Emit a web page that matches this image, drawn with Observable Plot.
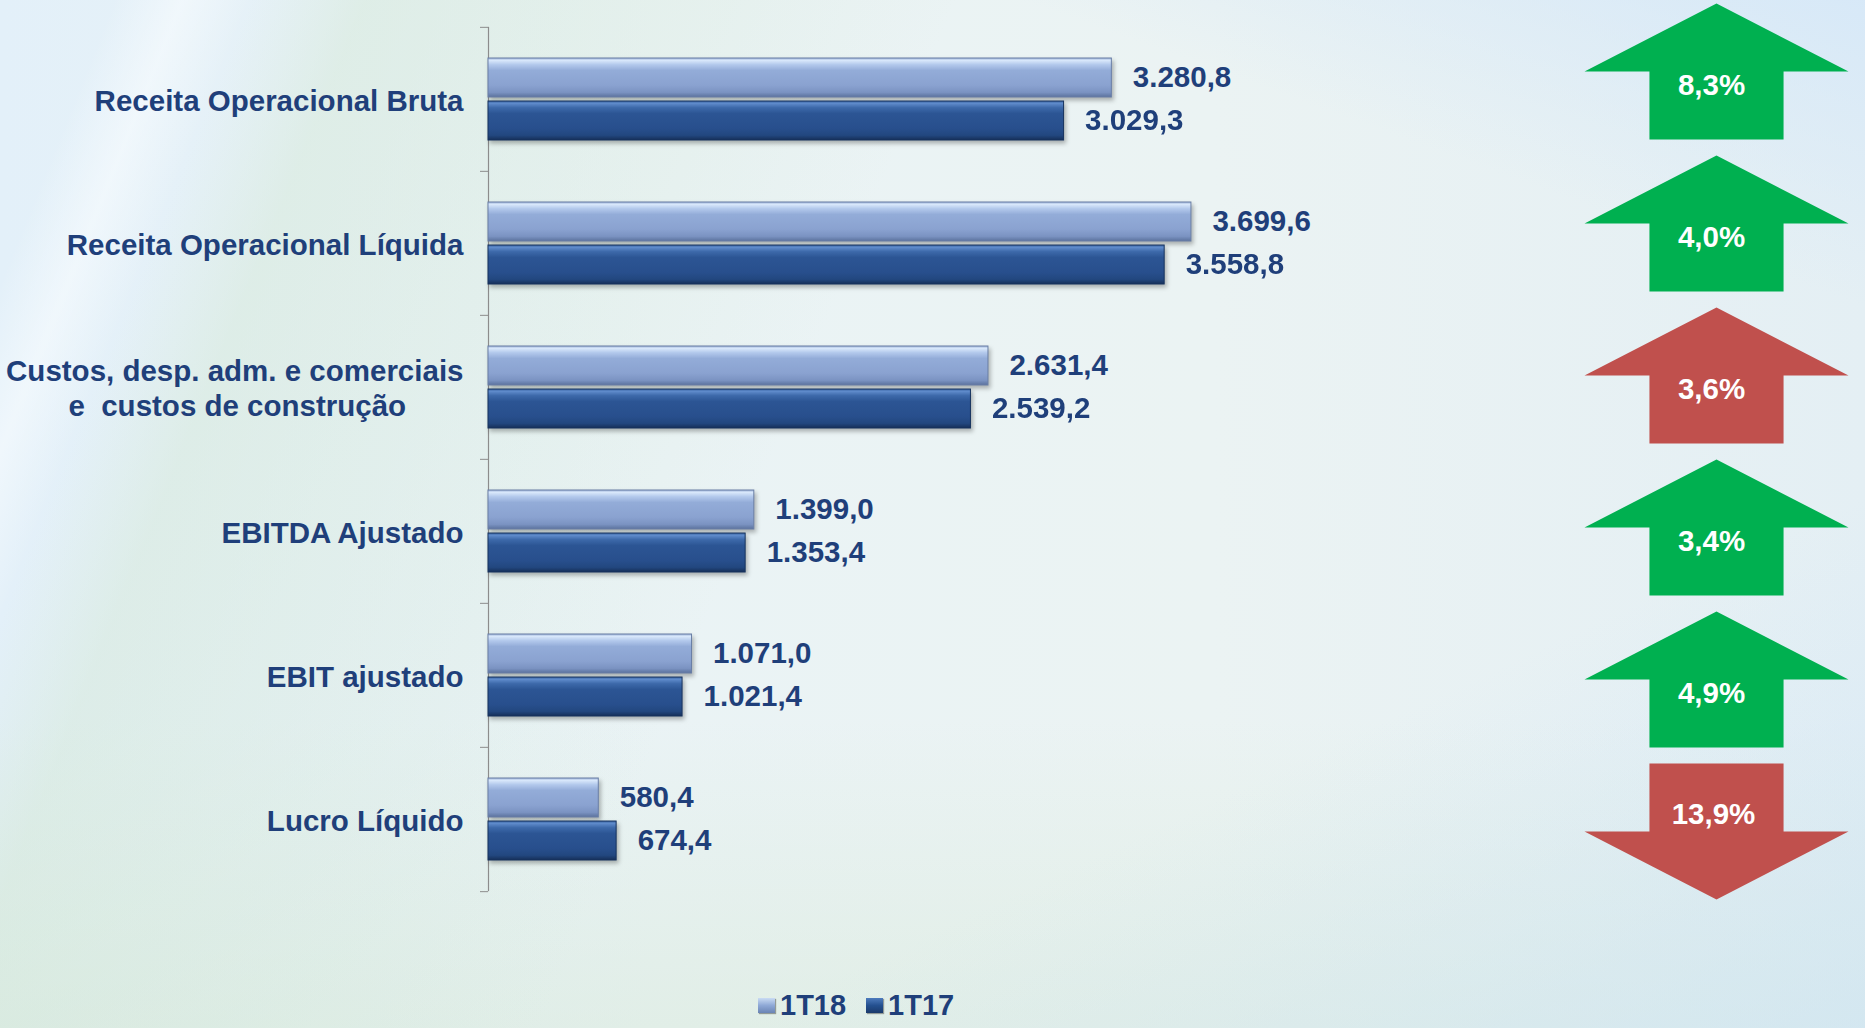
<!DOCTYPE html>
<html><head><meta charset="utf-8">
<script src="https://cdn.jsdelivr.net/npm/d3@7"></script>
<script src="https://cdn.jsdelivr.net/npm/@observablehq/plot@0.6"></script>
<style>
html,body{margin:0;padding:0;}
body{width:1865px;height:1028px;overflow:hidden;font-family:"Liberation Sans",Arial,sans-serif;
background:
 linear-gradient(155deg, rgba(205,228,247,0) 72%, rgba(205,228,247,0.6) 100%),
 linear-gradient(200deg, rgba(214,232,248,0.9) 0%, rgba(214,232,248,0) 18%),
 linear-gradient(112deg, rgba(255,255,255,0) 5%, rgba(250,253,255,0.55) 8%, rgba(255,255,255,0) 11%, rgba(212,232,212,0.45) 16%, rgba(212,232,212,0.2) 32%, rgba(255,255,255,0) 42%),
 linear-gradient(0deg, rgba(214,232,214,0.45) 0%, rgba(214,232,214,0) 30%),
 linear-gradient(90deg, #e3f0f9 0%, #eaf3f5 35%, #ebf3f3 65%, #e4eff4 100%);}
#wrap{position:relative;width:1865px;height:1028px;}
#main{position:absolute;left:0;top:0;width:1560px;}
#arrows{position:absolute;left:1560px;top:0;width:312px;}
#legend{position:absolute;left:758px;top:986px;display:flex;align-items:center;font-size:29px;font-weight:bold;color:#1f3f7a;line-height:38px;}
#legend .sw{display:inline-block;width:17px;height:15px;margin-right:5px;box-shadow:1px 1px 1px rgba(0,0,0,0.35);}
#legend .s18{background:linear-gradient(180deg,#c9dbf3 0%,#8ea8d6 50%,#6a84b4 100%);}
#legend .s17{background:linear-gradient(180deg,#4d7bbd 0%,#24508f 50%,#1a3a6b 100%);}
#main g[aria-label="bar"]{filter:drop-shadow(2px 3px 2px rgba(0,0,0,0.28));}
</style></head>
<body><div id="wrap"><div id="main"></div><div id="arrows"></div>
<div id="legend"><span class="sw s18"></span><span>1T18</span><span style="width:20px"></span><span class="sw s17"></span><span>1T17</span></div></div>
<script>
// ---- data ----
const categories = [
  "Receita Operacional Bruta",
  "Receita Operacional Líquida",
  "Custos, desp. adm. e comerciais\ne\u00a0\u00a0custos de construção\u00a0\u00a0\u00a0\u00a0\u00a0\u00a0\u00a0",
  "EBITDA Ajustado",
  "EBIT ajustado",
  "Lucro Líquido"
];
const series = ["1T18", "1T17"];
const values1T18 = [3280.8, 3699.6, 2631.4, 1399.0, 1071.0, 580.4];
const values1T17 = [3029.3, 3558.8, 2539.2, 1353.4, 1021.4, 674.4];
const variationText = ["8,3%", "4,0%", "3,6%", "3,4%", "4,9%", "13,9%"];
const variationDirection = ["up", "up", "up", "up", "up", "down"];
const variationFavorable = [true, true, false, true, true, false];

// ---- tables ----
const rows = categories.flatMap((c, i) => [
  {category: c, series: "1T18", value: values1T18[i]},
  {category: c, series: "1T17", value: values1T17[i]}
]);
const arrows = categories.map((c, i) => ({
  category: c, text: variationText[i], dir: variationDirection[i], good: variationFavorable[i]
}));

const ptBR = d3.formatLocale({decimal: ",", thousands: ".", grouping: [3], currency: ["R$", ""]});
const fmt = ptBR.format(",.1f");

const textColor = "#1f3f7a";
const FS = 29.5;
const H = 970, mT = 26, mB = 78;
const step = (H - mT - mB) / categories.length;

const chart = Plot.plot({
  width: 1560, height: H,
  marginLeft: 488, marginRight: 312, marginTop: mT, marginBottom: mB,
  style: {fontFamily: "Liberation Sans, Arial, sans-serif", background: "transparent", overflow: "visible"},
  x: {domain: [0, 4000], axis: null},
  y: {domain: series, paddingInner: 0.1, paddingOuter: 0, axis: null},
  fy: {domain: categories, paddingInner: 0.432, paddingOuter: 0.216, label: null},
  marks: [
    Plot.ruleX([0], {stroke: "#8c8c8c", strokeWidth: 1.2, insetTop: -step * 0.216, insetBottom: -step * 0.216}),
    Plot.axisFy({anchor: "left", label: null, text: null, tickSize: 8, dy: -step / 2, stroke: "#8c8c8c"}),
    Plot.axisFy({anchor: "left", label: null, text: null, ticks: [categories[categories.length - 1]], tickSize: 8, dy: step / 2, stroke: "#8c8c8c"}),
    Plot.axisFy({anchor: "left", label: null, tickSize: 0, tickPadding: 25, fontSize: FS, fontWeight: "bold", fill: textColor, lineHeight: 1.17}),
    Plot.barX(rows.filter(d => d.series === "1T18"), {fy: "category", y: "series", x: "value", fill: "url(#g18)", stroke: "#6a7fa6", strokeWidth: 1}),
    Plot.barX(rows.filter(d => d.series === "1T17"), {fy: "category", y: "series", x: "value", fill: "url(#g17)", stroke: "#17335e", strokeWidth: 1}),
    Plot.text(rows, {fy: "category", y: "series", x: "value", text: d => fmt(d.value), textAnchor: "start", dx: 21, fontSize: FS, fontWeight: "bold", fill: textColor})
  ]
});

// gradients for the 3D-looking bars
const defs = d3.select(chart).insert("defs", ":first-child");
function grad(id, stops) {
  const g = defs.append("linearGradient").attr("id", id).attr("x1", 0).attr("y1", 0).attr("x2", 0).attr("y2", 1);
  stops.forEach(([o, c]) => g.append("stop").attr("offset", o).attr("stop-color", c));
}
grad("g18", [[0, "#9cb2d8"], [0.06, "#d9e8fb"], [0.17, "#b3c9ec"], [0.32, "#93acd8"], [0.7, "#8aa2d0"], [0.88, "#7b93c2"], [1, "#5b729d"]]);
grad("g17", [[0, "#3a64a2"], [0.06, "#5f8bcb"], [0.17, "#3d69aa"], [0.32, "#2c5594"], [0.7, "#284f8d"], [0.88, "#22477f"], [1, "#162f58"]]);
document.getElementById("main").appendChild(chart);

// ---- variation arrows ----
function blockArrow(up) {
  return {
    draw(ctx, size) {
      const r = Math.sqrt(size / Math.PI);
      const hw = r, sw = r * 0.508, hh = r * 0.515, s = up ? 1 : -1;
      ctx.moveTo(0, -hh * s);
      ctx.lineTo(hw, 0);
      ctx.lineTo(sw, 0);
      ctx.lineTo(sw, hh * s);
      ctx.lineTo(-sw, hh * s);
      ctx.lineTo(-sw, 0);
      ctx.lineTo(-hw, 0);
      ctx.closePath();
    }
  };
}
const arrowChart = Plot.plot({
  width: 312, height: 930, margin: 0,
  style: {fontFamily: "Liberation Sans, Arial, sans-serif", background: "transparent", overflow: "visible"},
  y: {type: "point", domain: categories, range: [69, 833], padding: 0, axis: null},
  symbol: {domain: ["up", "down"], range: [blockArrow(true), blockArrow(false)]},
  color: {type: "identity"},
  marks: [
    Plot.dot(arrows, {y: "category", symbol: "dir", r: 132, fill: d => d.good ? "#00b050" : "#c0504d", stroke: "none"}),
    Plot.text(arrows.filter(d => d.dir === "up"), {y: "category", text: "text", dy: 14, dx: -5, fill: "white", fontSize: FS, fontWeight: "bold"}),
    Plot.text(arrows.filter(d => d.dir === "down"), {y: "category", text: "text", dy: -17, dx: -3, fill: "white", fontSize: FS, fontWeight: "bold"})
  ]
});
document.getElementById("arrows").appendChild(arrowChart);
</script>
</body></html>
